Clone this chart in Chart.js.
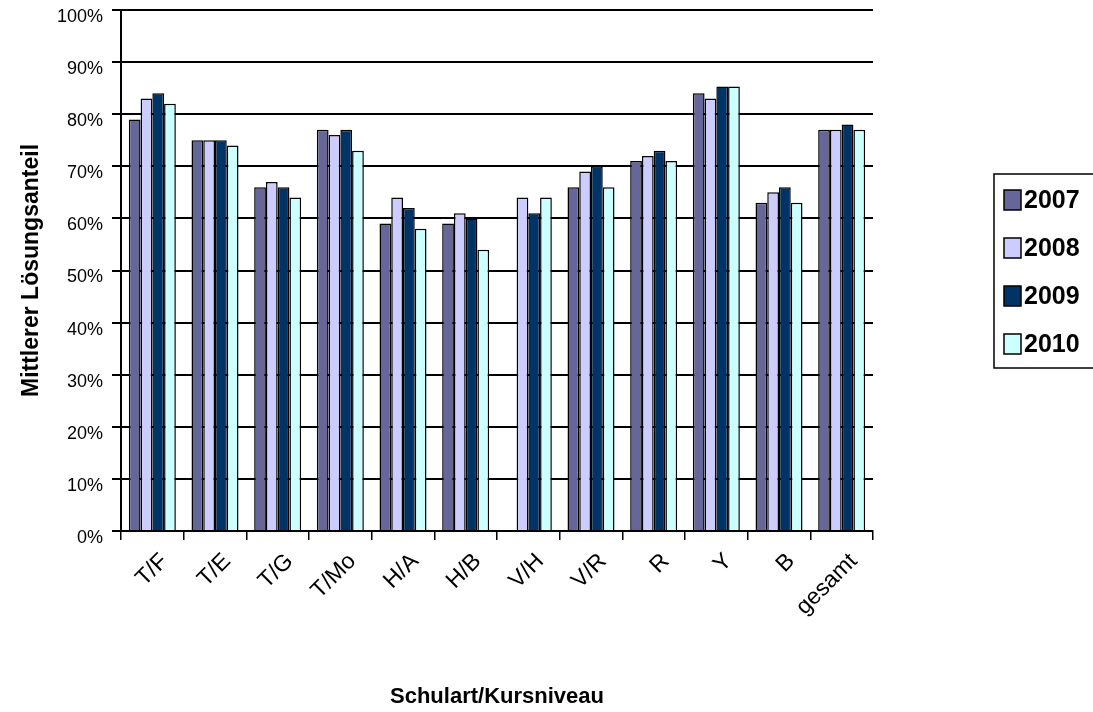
<!DOCTYPE html>
<html>
<head>
<meta charset="utf-8">
<script src="https://cdn.jsdelivr.net/npm/chart.js@4.4.1/dist/chart.umd.min.js"></script>
<style>
  html, body { margin: 0; padding: 0; background: #fff; }
  #wrap { width: 1093px; height: 712px; }
</style>
</head>
<body>
<div id="wrap"><canvas id="chart" width="1093" height="712"></canvas></div>
<script>
// Kategorien und Werte (in %)
const categories = ['T/F', 'T/E', 'T/G', 'T/Mo', 'H/A', 'H/B', 'V/H', 'V/R', 'R', 'Y', 'B', 'gesamt'];
const years = ['2007', '2008', '2009', '2010'];
const values2007 = [79, 75, 66, 77, 59, 59, null, 66, 71, 84, 63, 77];
const values2008 = [83, 75, 67, 76, 64, 61, 64, 69, 72, 83, 65, 77];
const values2009 = [84, 75, 66, 77, 62, 60, 61, 70, 73, 85.3, 66, 78];
const values2010 = [82, 74, 64, 73, 58, 54, 64, 66, 71, 85.3, 63, 77];
const yTicks = [0, 10, 20, 30, 40, 50, 60, 70, 80, 90, 100];
const colors = ['#666699', '#CCCCFF', '#003366', '#CCFFFF'];

const FONT = "'Liberation Sans', Arial, sans-serif";

// Legende im Excel-Stil
const boxLegend = {
    id: 'boxLegend',
    afterDraw(chart) {
        const ctx = chart.ctx;
        const x0 = 994, y0 = 174, w = 110, h = 194;
        ctx.save();
        ctx.strokeStyle = '#000';
        ctx.lineWidth = 1.5;
        ctx.strokeRect(x0, y0, w, h);
        ctx.font = 'bold 25px ' + FONT;
        ctx.textBaseline = 'middle';
        chart.data.datasets.forEach((ds, i) => {
            const cy = 200 + i * 48;
            ctx.fillStyle = ds.backgroundColor;
            ctx.fillRect(1004, cy - 10, 17, 20);
            ctx.strokeRect(1004, cy - 10, 17, 20);
            ctx.fillStyle = '#000';
            ctx.fillText(ds.label, 1024, cy + 1);
        });
        ctx.restore();
    }
};

const ctx = document.getElementById('chart').getContext('2d');
const chart = new Chart(ctx, {
    type: 'bar',
    data: {
        labels: categories,
        datasets: [values2007, values2008, values2009, values2010].map((vals, i) => ({
            label: years[i],
            data: vals,
            backgroundColor: colors[i],
            borderColor: '#000',
            borderWidth: 1.5,
            borderSkipped: 'bottom',
            barPercentage: 1.0,
            categoryPercentage: 0.75
        }))
    },
    options: {
        responsive: false,
        animation: false,
        devicePixelRatio: 1,
        layout: { padding: { top: 10, right: 220, left: 0, bottom: 0 } },
        plugins: {
            legend: { display: false },
            tooltip: { enabled: false }
        },
        scales: {
            x: {
                grid: {
                    offset: true,
                    drawOnChartArea: false,
                    drawTicks: true,
                    tickLength: 9,
                    color: '#000',
                    lineWidth: 1.5
                },
                border: { color: '#000', width: 2 },
                ticks: {
                    color: '#000',
                    font: { family: FONT, size: 23 },
                    minRotation: 45,
                    maxRotation: 45,
                    padding: 8,
                    labelOffset: 12
                },
                title: {
                    display: true,
                    text: 'Schulart/Kursniveau',
                    color: '#000',
                    font: { family: FONT, size: 22, weight: 'bold' },
                    padding: { top: 0, bottom: 2 }
                },
                afterFit(scale) {
                    scale.height = 181;
                    scale.paddingLeft = 0;
                    scale.paddingRight = 0;
                }
            },
            y: {
                min: 0,
                max: 100,
                afterBuildTicks(scale) { scale.ticks = yTicks.map(v => ({ value: v })); },
                grid: {
                    color: '#000',
                    lineWidth: 2,
                    drawTicks: true,
                    tickLength: 9
                },
                border: { color: '#000', width: 2 },
                ticks: {
                    color: '#000',
                    font: { family: FONT, size: 18 },
                    padding: 9,
                    labelOffset: 7,
                    callback: v => v + '%'
                },
                title: {
                    display: true,
                    text: 'Mittlerer Lösungsanteil',
                    color: '#000',
                    font: { family: FONT, size: 23, weight: 'bold' },
                    padding: { top: 18, bottom: 0 }
                },
                afterFit(scale) {
                    scale.width = 121;
                    scale.paddingTop = 0;
                    scale.paddingBottom = 0;
                }
            }
        }
    },
    plugins: [boxLegend]
});
</script>
</body>
</html>
